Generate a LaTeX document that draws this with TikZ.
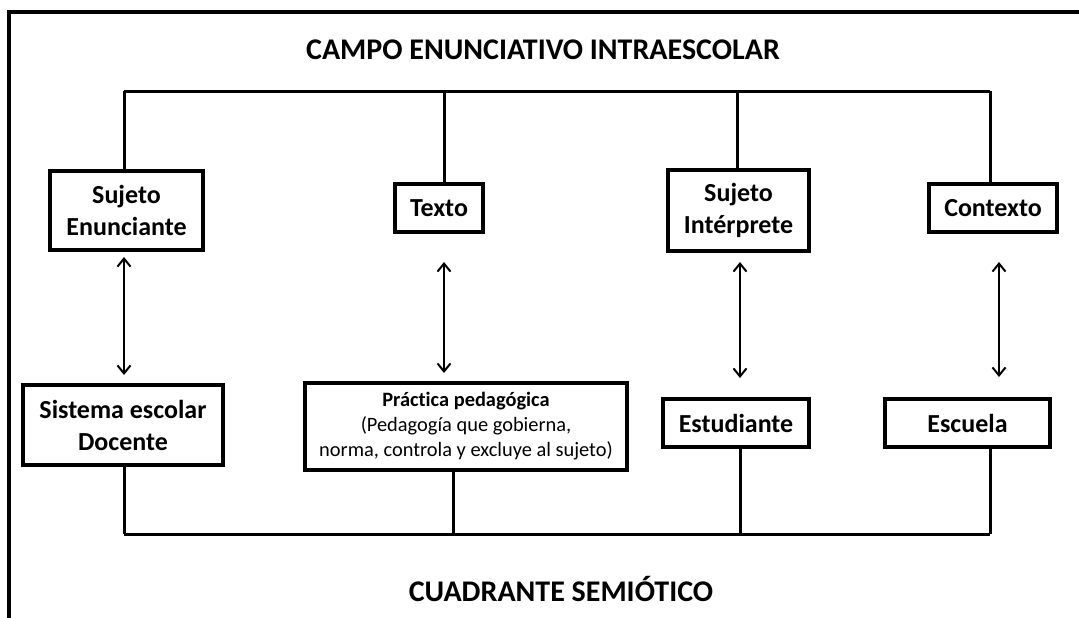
\documentclass[tikz,border=0pt]{standalone}
\usepackage{fontspec}
\setmainfont{Carlito}[Ligatures=NoCommon]
\usetikzlibrary{arrows.meta}
\begin{document}
\begin{tikzpicture}[x=1pt,y=-1pt,
  box/.style={draw, line width=4.5pt, inner sep=0pt, align=center, font=\bfseries\fontsize{26}{32}\selectfont},
  conn/.style={line width=3pt},
  dbl/.style={line width=2pt, {Straight Barb[length=8pt,width=13pt,line width=2pt]}-{Straight Barb[length=8pt,width=13pt,line width=2pt]}},
  ttl/.style={font=\bfseries\fontsize{30}{36}\selectfont}]
\useasboundingbox (0,0) rectangle (1079,618);
% frame
\draw[line width=3.5pt] (9,618) -- (9,12) -- (1079,12);
% titles
\node[ttl] (t1) at (543,50) {CAMPO ENUNCIATIVO INTRAESCOLAR};
\node[ttl] (t2) at (561,589) {CUADRANTE SEMIÓTICO};
% top boxes
\node[box, minimum width=153pt, minimum height=79pt] (se) at (126.5,210.5) {Sujeto\\Enunciante};
\node[box, minimum width=88pt, minimum height=48pt] (tx) at (439,208) {Texto};
\node[box, minimum width=141pt, minimum height=81pt] (si) at (738.5,210.5) {Sujeto\\Intérprete};
\node[box, minimum width=128pt, minimum height=48pt] (cx) at (993,208) {Contexto};
% bottom boxes
\node[box, minimum width=200pt, minimum height=80pt] (sd) at (123,425) {Sistema escolar\\Docente};
\node[box, minimum width=322pt, minimum height=87pt, font=\fontsize{20.4}{25}\selectfont] (pp) at (466,426.5) {\textbf{Práctica pedagógica}\\(Pedagogía que gobierna,\\norma, controla y excluye al sujeto)};
\node[box, minimum width=146pt, minimum height=48pt] (es) at (736,423) {Estudiante};
\node[box, minimum width=165pt, minimum height=48pt] (ec) at (967.5,423) {Escuela};
% top bus
\coordinate (b1) at (124,91);
\coordinate (b2) at (444,91);
\coordinate (b3) at (737,91);
\coordinate (b4) at (990,91);
\draw[conn] (b1) -- (b4);
\draw[conn] (b1) -- (b1 |- se.north);
\draw[conn] (b2) -- (b2 |- tx.north);
\draw[conn] (b3) -- (b3 |- si.north);
\draw[conn] (b4) -- (b4 |- cx.north);
% bottom bus
\coordinate (c1) at (124,534);
\coordinate (c2) at (453,534);
\coordinate (c3) at (740,534);
\coordinate (c4) at (990,534);
\draw[conn] (c1) -- (c4);
\draw[conn] (c1) -- (c1 |- sd.south);
\draw[conn] (c2) -- (c2 |- pp.south);
\draw[conn] (c3) -- (c3 |- es.south);
\draw[conn] (c4) -- (c4 |- ec.south);
% arrows
\coordinate (a1s) at (124,257); \coordinate (a1e) at (124,375);
\coordinate (a2s) at (444,262); \coordinate (a2e) at (444,373);
\coordinate (a3s) at (740,262); \coordinate (a3e) at (740,378);
\coordinate (a4s) at (999,262); \coordinate (a4e) at (999,377);
\draw[dbl] (a1s) -- (a1e);
\draw[dbl] (a2s) -- (a2e);
\draw[dbl] (a3s) -- (a3e);
\draw[dbl] (a4s) -- (a4e);
\end{tikzpicture}
\end{document}
